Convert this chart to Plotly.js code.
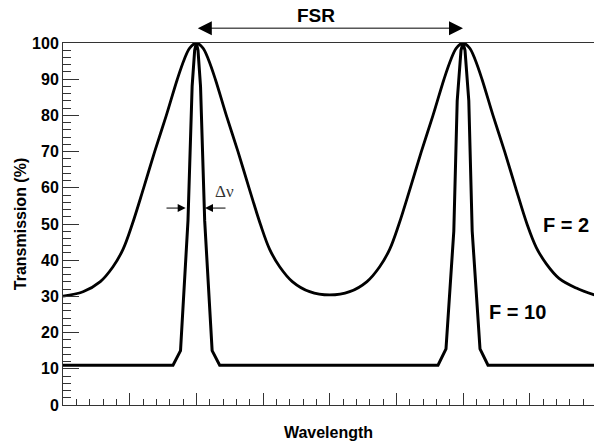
<!DOCTYPE html>
<html>
<head>
<meta charset="utf-8">
<script src="https://cdn.plot.ly/plotly-3.0.1.min.js"></script>
<style>
  html, body { margin: 0; padding: 0; background: #fff; overflow: hidden; }
  #chart { width: 594px; height: 446px; }
</style>
</head>
<body>
<div id="chart"></div>
<script>
// Fabry-Perot transmission for two finesse values, in relative wavelength units
// (one unit per major x tick, transmission peaks at 2 and 6).

const f2Wavelength = [0, 0.3, 0.56, 0.75, 0.9, 1.04, 1.21, 1.375, 1.55, 1.715, 1.82, 1.9, 2.0, 2.1, 2.18, 2.285, 2.45, 2.625, 2.79, 2.96, 3.1, 3.25, 3.44, 3.7, 4.0, 4.3, 4.56, 4.75, 4.9, 5.04, 5.21, 5.375, 5.55, 5.715, 5.82, 5.9, 6.0, 6.1, 6.18, 6.285, 6.45, 6.625, 6.79, 6.96, 7.1, 7.25, 7.44, 7.7, 7.97];
const f2Transmission = [30.1, 31.3, 34.1, 38.2, 43, 50, 60, 70, 80, 90, 95.5, 98.6, 100, 98.6, 95.5, 90, 80, 70, 60, 50, 43, 38.2, 34.1, 31.3, 30.4, 31.3, 34.1, 38.2, 43, 50, 60, 70, 80, 90, 95.5, 98.6, 100, 98.6, 95.5, 90, 80, 70, 60, 50, 43.5, 39, 35, 32.3, 30.4];

const f10Wavelength = [0, 1.65, 1.763, 1.875, 1.937, 1.975, 2.0, 2.025, 2.063, 2.125, 2.237, 2.35, 5.625, 5.745, 5.862, 5.913, 5.97, 6.0, 6.03, 6.087, 6.138, 6.255, 6.375, 7.97];
const f10Transmission = [11, 11, 15, 51, 88, 98, 100, 98, 88, 51, 15, 11, 11, 15.5, 48, 84, 98, 100, 98, 84, 48, 15.5, 11, 11];

const yTickValues = [0, 10, 20, 30, 40, 50, 60, 70, 80, 90, 100];
const yTickLabels = ['0', '10', '20', '30', '40', '50', '60', '70', '80', '90', '100'];

const curveLabels = ['F = 2', 'F = 10'];
const peakWavelengths = [2, 6];
const fsrLabel = 'FSR';
const widthLabel = 'Δν';

const sans = 'Liberation Sans, Arial, Helvetica, sans-serif';
const serif = 'Liberation Serif, Times New Roman, serif';

const traces = [
  {
    x: f2Wavelength, y: f2Transmission, type: 'scatter', mode: 'lines',
    line: { color: '#000', width: 2.8, shape: 'spline', smoothing: 1 },
    hoverinfo: 'skip', cliponaxis: false
  },
  {
    x: f10Wavelength, y: f10Transmission, type: 'scatter', mode: 'lines',
    line: { color: '#000', width: 3, shape: 'linear' },
    hoverinfo: 'skip', cliponaxis: false
  }
];

const layout = {
  width: 594, height: 446,
  margin: { l: 63, r: 0, t: 43, b: 41 },
  paper_bgcolor: '#fff', plot_bgcolor: '#fff',
  showlegend: false,
  font: { family: sans, color: '#000', size: 16 },
  xaxis: {
    range: [0, 7.965], showgrid: false, zeroline: false,
    showline: true, linecolor: '#333', linewidth: 1, mirror: true,
    ticks: 'inside', tickmode: 'linear', tick0: 0, dtick: 1,
    ticklen: 12, tickwidth: 1, tickcolor: '#333',
    showticklabels: false,
    minor: { ticks: 'inside', tick0: 0, dtick: 0.2, ticklen: 6, tickwidth: 1, tickcolor: '#333', showgrid: false },
    title: { text: 'Wavelength', font: { family: sans, size: 16, weight: 'bold' }, standoff: 21 }
  },
  yaxis: {
    range: [0, 100], showgrid: false, zeroline: false,
    showline: true, linecolor: '#333', linewidth: 1,
    ticks: 'inside', tickmode: 'array', tickvals: yTickValues, ticktext: yTickLabels,
    ticklen: 16, tickwidth: 1, tickcolor: '#333',
    tickfont: { family: sans, size: 16, weight: 'bold' },
    minor: { ticks: 'inside', tick0: 0, dtick: 2, ticklen: 8, tickwidth: 1, tickcolor: '#333', showgrid: false },
    title: { text: 'Transmission (%)', font: { family: sans, size: 16, weight: 'bold' }, standoff: 1 }
  },
  annotations: [
    // free spectral range: double arrow between the two peaks, above the plot
    {
      x: peakWavelengths[1], y: 1.041, ax: peakWavelengths[0], ay: 0,
      xref: 'x', yref: 'paper', axref: 'x', ayref: 'pixel',
      text: '', showarrow: true, arrowside: 'end+start',
      arrowhead: 2, startarrowhead: 2, arrowsize: 2.8, startarrowsize: 2.8,
      arrowwidth: 1, arrowcolor: '#000', standoff: 0, startstandoff: 0
    },
    {
      x: 3.8, y: 1.077, xref: 'x', yref: 'paper', text: '<b>' + fsrLabel + '</b>',
      showarrow: false, xanchor: 'center', yanchor: 'middle',
      font: { family: sans, size: 19, color: '#000' }
    },
    // linewidth markers on the narrow peak
    {
      x: 1.84, y: 54.4, ax: 1.53, ay: 54.4, xref: 'x', yref: 'y', axref: 'x', ayref: 'y',
      text: '', showarrow: true, arrowhead: 2, arrowsize: 1.6, arrowwidth: 1,
      arrowcolor: '#000', standoff: 0
    },
    {
      x: 2.13, y: 54.4, ax: 2.46, ay: 54.4, xref: 'x', yref: 'y', axref: 'x', ayref: 'y',
      text: '', showarrow: true, arrowhead: 2, arrowsize: 1.6, arrowwidth: 1,
      arrowcolor: '#000', standoff: 0
    },
    {
      x: 2.415, y: 59.1, xref: 'x', yref: 'y', text: widthLabel,
      showarrow: false, xanchor: 'center', yanchor: 'middle',
      font: { family: serif, size: 17, color: '#333' }
    },
    {
      x: 7.55, y: 49.7, xref: 'x', yref: 'y', text: '<b>' + curveLabels[0] + '</b>',
      showarrow: false, xanchor: 'center', yanchor: 'middle',
      font: { family: sans, size: 20, color: '#000' }
    },
    {
      x: 6.82, y: 25.6, xref: 'x', yref: 'y', text: '<b>' + curveLabels[1] + '</b>',
      showarrow: false, xanchor: 'center', yanchor: 'middle',
      font: { family: sans, size: 20, color: '#000' }
    }
  ]
};

Plotly.newPlot('chart', traces, layout, { staticPlot: true, displayModeBar: false });
</script>
</body>
</html>
